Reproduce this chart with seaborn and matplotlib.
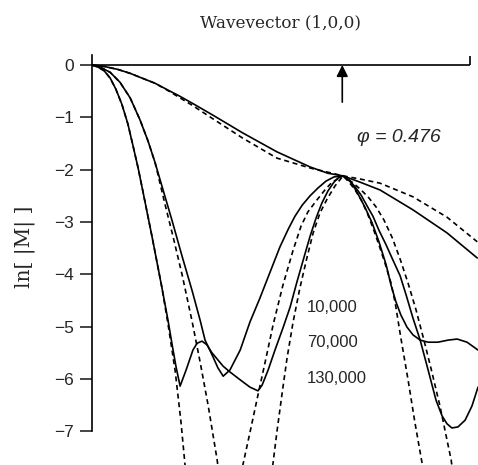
import matplotlib
matplotlib.use('Agg')
import matplotlib.pyplot as plt
import seaborn as sns

# ── data (x scaled so the axis line runs 0 → 1) ─────────────────────────────────
# broad curve (no minimum)
a_solid_x = [0, .034, .069, .101, .132, .167, .201, .233, .265, .320, .399, .489, .577, .624, .664,
             .709, .762, .849, .939, 1.019]
a_solid_y = [0, -.03, -.086, -.16, -.25, -.35, -.48, -.60, -.73, -.96, -1.30, -1.66, -1.95, -2.07, -2.12,
             -2.24, -2.39, -2.77, -3.21, -3.69]
a_dash_x = [0, .034, .069, .101, .132, .167, .201, .233, .265, .320, .399, .489, .577, .624, .664,
            .709, .762, .849, .939, 1.019]
a_dash_y = [0, -.03, -.086, -.16, -.25, -.35, -.49, -.63, -.77, -1.03, -1.40, -1.78, -1.97, -2.05, -2.12,
            -2.18, -2.26, -2.52, -2.91, -3.38]

# steepest curve (narrow peak)
b_solid_x = [0, .016, .032, .048, .063, .079, .095, .108, .122, .135, .159, .185, .201, .212, .222, .233,
             .249, .267, .278, .291, .304, .317, .347, .365, .392, .418, .439, .450, .466, .484,
             .505, .524, .542, .561, .577, .593, .608, .624, .640, .651, .664,
             .685, .701, .722, .741, .759, .778, .791, .804, .817, .833, .849, .868,
             .889, .915, .942, .966, .992, 1.021]
b_solid_y = [0, -.04, -.11, -.25, -.46, -.75, -1.13, -1.53, -1.97, -2.43, -3.29, -4.26, -4.88, -5.35, -5.76, -6.14,
             -5.83, -5.45, -5.32, -5.28, -5.35, -5.50, -5.76, -5.87, -6.02, -6.16, -6.23, -6.12, -5.83, -5.45,
             -5.03, -4.63, -4.15, -3.67, -3.27, -2.92, -2.64, -2.41, -2.24, -2.16, -2.12,
             -2.24, -2.43, -2.72, -3.02, -3.38, -3.82, -4.21, -4.53, -4.78, -5.01, -5.16, -5.26,
             -5.30, -5.30, -5.26, -5.24, -5.30, -5.45]
b_dash_left_x = [0, .016, .032, .048, .063, .079, .095, .108, .122, .135, .159, .185, .201, .220, .235, .250]
b_dash_left_y = [0, -.04, -.11, -.25, -.46, -.75, -1.13, -1.53, -1.97, -2.43, -3.29, -4.26, -4.95, -5.85,
                 -6.80, -7.95]
b_dash_right_x = [.476, .489, .503, .516, .532, .550, .569, .585, .603, .622, .643, .664,
                  .680, .696, .712, .728, .743, .759, .775, .791, .802, .817, .836, .854, .873, .878]
b_dash_right_y = [-7.78, -7.02, -6.27, -5.60, -4.91, -4.26, -3.67, -3.21, -2.83, -2.56, -2.31, -2.12,
                  -2.24, -2.39, -2.58, -2.83, -3.11, -3.44, -3.79, -4.17, -4.55, -5.22, -6.02, -6.83,
                  -7.61, -7.90]

# middle curve (broad peak)
c_solid_x = [0, .021, .048, .074, .101, .127, .148, .167, .188, .212, .238, .265, .286, .299, .320, .333, .347,
             .365, .392, .418, .444, .471, .497, .519, .537, .556, .577, .598, .619, .640, .664,
             .680, .696, .712, .728, .743, .759, .778, .796, .815, .831, .849, .868, .889, .910,
             .926, .939, .952, .968, .987, 1.005, 1.021]
c_solid_y = [0, -.04, -.14, -.33, -.63, -1.05, -1.45, -1.87, -2.39, -2.98, -3.65, -4.32, -4.88, -5.26, -5.58,
             -5.79, -5.95,
             -5.83, -5.45, -4.91, -4.46, -3.96, -3.48, -3.14, -2.89, -2.68, -2.50, -2.35, -2.22, -2.14, -2.12,
             -2.20, -2.33, -2.49, -2.70, -2.89, -3.16, -3.44, -3.73, -4.03, -4.40, -4.84, -5.26, -5.83, -6.41,
             -6.71, -6.86, -6.94, -6.92, -6.79, -6.52, -6.16]
c_dash_left_x = [0, .021, .048, .074, .101, .127, .148, .167, .193, .214, .238, .265, .286, .307, .331, .336]
c_dash_left_y = [0, -.04, -.14, -.33, -.63, -1.05, -1.45, -1.87, -2.66, -3.27, -4.00, -4.91, -5.68, -6.50,
                 -7.55, -7.84]
c_dash_right_x = [.394, .399, .418, .439, .458, .479, .505, .532, .553, .571, .595, .616, .635, .664,
                  .688, .709, .730, .751, .772, .794, .815, .836, .857, .878, .899, .921, .939, .950, .955]
c_dash_right_y = [-7.84, -7.65, -7.02, -6.31, -5.68, -4.97, -4.21, -3.54, -3.08, -2.81, -2.58, -2.39, -2.24,
                  -2.12, -2.24, -2.37, -2.52, -2.71, -2.96, -3.30, -3.71, -4.17, -4.68, -5.26, -5.87, -6.54,
                  -7.17, -7.55, -7.84]

size_labels = ["10,000", "70,000", "130,000"]
size_label_y = [-4.63, -5.30, -6.00]
y_ticks = [0, -1, -2, -3, -4, -5, -6, -7]
arrow_x = 0.662

# ── figure ───────────────────────────────────────────────────────────────────
sns.set_style("white")
plt.rcParams['font.family'] = ['Liberation Sans', 'DejaVu Sans']

fig = plt.figure(figsize=(4.78, 4.65), dpi=100)
ax = fig.add_axes([92 / 478, 0, 386 / 478, 410 / 465])

DASH = (0, (3.0, 2.2))
curves = [
    (a_solid_x, a_solid_y, "-"), (a_dash_x, a_dash_y, DASH),
    (b_solid_x, b_solid_y, "-"), (b_dash_left_x, b_dash_left_y, DASH),
    (b_dash_right_x, b_dash_right_y, DASH),
    (c_solid_x, c_solid_y, "-"), (c_dash_left_x, c_dash_left_y, DASH),
    (c_dash_right_x, c_dash_right_y, DASH),
]
for xs, ys, ls in curves:
    sns.lineplot(x=xs, y=ys, ax=ax, color="black", lw=1.2, linestyle=ls,
                 sort=False, estimator=None)

ax.set_xlim(0, 1.021)
ax.set_ylim(-7.648, 0.191)

# axis line at zero with end stop
ax.hlines(0, 0, 1, color="black", lw=1.2)
ax.vlines(1, 0, 0.17, color="black", lw=1.2)

for s in ["top", "right", "bottom"]:
    ax.spines[s].set_visible(False)
ax.spines["left"].set_bounds(-7, 0.191)
ax.spines["left"].set_linewidth(1.2)
ax.spines["left"].set_color("black")
ax.set_xticks([])
ax.set_yticks(y_ticks)
ax.set_yticklabels([f"{t}".replace("-", "\u2212") for t in y_ticks])
ax.tick_params(axis="y", left=True, length=9, width=1.2, pad=4, labelsize=12.5, direction="out")

ax.annotate("", xy=(arrow_x, 0), xytext=(arrow_x, -0.71),
            arrowprops=dict(arrowstyle="-|>", color="black", lw=1.2, mutation_scale=17,
                            shrinkA=0, shrinkB=0))

ax.text(0.701, -1.38, "\u03c6 = 0.476", style="italic", fontsize=14, va="center")
for lab, yy in zip(size_labels, size_label_y):
    ax.text(0.569, yy, lab, fontsize=12, va="center")

fig.text(280 / 478, 1 - 23 / 465, "Wavevector (1,0,0)", ha="center", va="center",
         family="DejaVu Serif", fontsize=12.2)
fig.text(25 / 478, 1 - 247 / 465, "ln[ |M| ]", ha="center", va="center", rotation=90,
         family="DejaVu Serif", fontsize=14.5)

fig.savefig("out.png", dpi=100)
